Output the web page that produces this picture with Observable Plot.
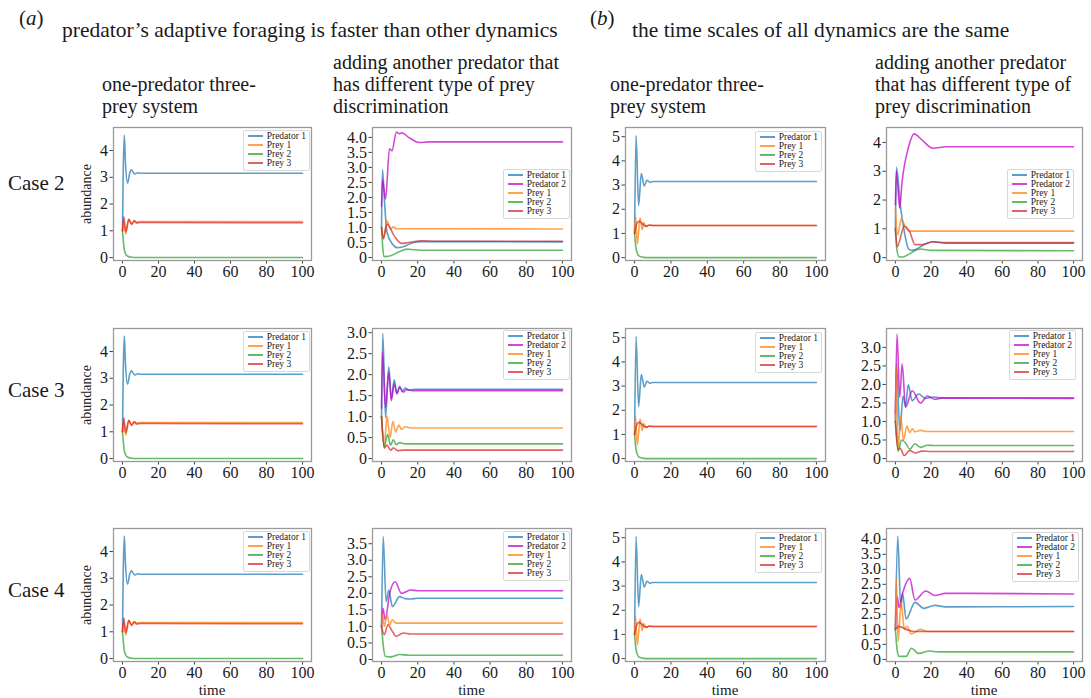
<!DOCTYPE html>
<html>
<head>
<meta charset="utf-8">
<script src="https://cdn.jsdelivr.net/npm/d3@7"></script>
<script src="https://cdn.jsdelivr.net/npm/@observablehq/plot@0.6"></script>
<style>
  html, body { margin: 0; padding: 0; background: #fff; }
  #root { position: relative; width: 1091px; height: 698px; overflow: hidden;
          font-family: "Liberation Serif", "Times New Roman", "DejaVu Serif", serif; color: #1a1a1a; }
  .t { position: absolute; white-space: nowrap; font-family: "Liberation Serif", "Times New Roman", serif; }
  .hdr { position: absolute; font-size: 20px; line-height: 22px; white-space: nowrap; font-family: "Liberation Serif", "Times New Roman", serif; }
  .panel { position: absolute; }
  .panel svg text { font-family: "Liberation Serif", "Times New Roman", serif !important; }
  .leg { position: absolute; background: rgba(255,255,255,0.85); border: 1px solid #d8d8d8;
         border-radius: 2px; padding: 1px 3px 2px 4px; font-size: 9.5px; line-height: 9px; white-space: nowrap;
         font-family: "Liberation Serif", "Times New Roman", serif; }
  .leg .sw { display: inline-block; width: 15px; height: 1.6px; vertical-align: middle; margin-right: 4px; position: relative; top: -1px; }
</style>
</head>
<body>
<div id="root"></div>
<script>
// ---------- shared tick values / labels ----------
const xTicks = [0, 20, 40, 60, 80, 100];
const ticksInt4 = [0, 1, 2, 3, 4];
const labelsInt4 = ["0", "1", "2", "3", "4"];
const ticksInt5 = [0, 1, 2, 3, 4, 5];
const labelsInt5 = ["0", "1", "2", "3", "4", "5"];
const ticksHalf40 = [0, 0.5, 1, 1.5, 2, 2.5, 3, 3.5, 4];
const labelsHalf40 = ["0", "0.5", "1.0", "1.5", "2.0", "2.5", "3.0", "3.5", "4.0"];
const ticksHalf30 = [0, 0.5, 1, 1.5, 2, 2.5, 3];
const labelsHalf30 = ["0", "0.5", "1.0", "1.5", "2.0", "2.5", "3.0"];
const labelsHalf30b = ["0", "0.5", "1.0", "2.5", "2.0", "2.5", "3.0"];
const ticksHalf35 = [0, 0.5, 1, 1.5, 2, 2.5, 3, 3.5];
const labelsHalf35 = ["0", "0.5", "1.0", "1.5", "2.0", "2.5", "3.0", "3.5"];
const labelsHalf40b = ["0", "0.5", "1.0", "2.5", "2.0", "2.5", "3.0", "3.5", "4.0"];

const seriesNames = ["Predator 1", "Predator 2", "Prey 1", "Prey 2", "Prey 3"];

// ---------- (a) one-predator three-prey (same in cases 2-4) : [time, abundance] ----------
const a1_pred1 = [[0,1],[0.4,3.2],[1,4.58],[1.6,3.6],[2.8,2.78],[4,3.15],[5,3.28],[6,3.18],[7,3.12],[8.5,3.17],[10,3.15],[100,3.15]];
const a1_prey1 = [[0,1],[0.6,1.35],[1.8,0.88],[3.5,1.42],[5,1.27],[6.5,1.38],[8,1.33],[10,1.35],[100,1.35]];
const a1_prey2 = [[0,1],[0.5,0.6],[1,0.3],[2,0.1],[3,0.05],[5,0.01],[8,0],[100,0]];
const a1_prey3 = [[0,1],[0.7,1.52],[1.8,0.98],[3.5,1.43],[5,1.24],[6.5,1.36],[8,1.29],[10,1.31],[100,1.3]];

// ---------- (b) one-predator three-prey (same in cases 2-4) ----------
const b1_pred1 = [[0,1],[0.8,5.05],[2.2,2.15],[3.7,3.48],[5.3,2.96],[6.8,3.2],[8.5,3.11],[10,3.15],[100,3.15]];
const b1_prey1 = [[0,1],[0.5,1.75],[1.5,0.55],[3,1.65],[4.2,1.15],[5,1.45],[6.5,1.28],[8,1.35],[10,1.33],[100,1.33]];
const b1_prey2 = [[0,1],[0.5,0.55],[1,0.3],[2,0.1],[3,0.05],[5,0.01],[8,0],[100,0]];
const b1_prey3 = [[0,1],[1.5,1.45],[2.5,1.5],[4,1.42],[6,1.3],[8,1.34],[10,1.33],[100,1.33]];

// ---------- (a) two predators, case 2 ----------
const a2c2_pred1 = [[0,1],[0.5,2.93],[1.5,2.0],[3,0.84],[6,0.45],[8.6,0.33],[12,0.36],[17.7,0.5],[22,0.53],[100,0.52]];
const a2c2_pred2 = [[0,1.7],[0.5,2.6],[2.2,1.95],[4.4,3.62],[5.8,3.55],[8.2,4.18],[9.8,4.12],[11.3,4.15],[15,4.0],[19.5,3.85],[21,3.83],[26,3.85],[100,3.85]];
const a2c2_prey1 = [[0,1],[1,0.63],[3,1.22],[5,0.95],[6.8,1.02],[8,0.95],[10,0.96],[100,0.95]];
const a2c2_prey2 = [[0,1],[0.7,0.3],[1.3,0.03],[5,0.06],[10,0.2],[14,0.28],[18,0.26],[25,0.24],[100,0.24]];
const a2c2_prey3 = [[0,1],[1,0.63],[3,1.11],[7,0.72],[11,0.47],[15,0.5],[22,0.56],[30,0.54],[100,0.54]];

// ---------- (b) two predators, case 2 ----------
const b2c2_pred1 = [[0,1],[0.55,3.14],[2.8,1.8],[5,0.9],[7.4,0.3],[9,0.25],[12,0.3],[16,0.45],[21,0.55],[28,0.5],[100,0.5]];
const b2c2_pred2 = [[0,1.84],[0.55,3.0],[2.4,1.72],[3.7,2.6],[7.4,3.85],[10.5,4.3],[14.7,4.1],[21,3.8],[28.5,3.85],[100,3.85]];
const b2c2_prey1 = [[0,1.72],[1.3,0.8],[3.3,1.35],[6,1.0],[8,0.92],[100,0.92]];
const b2c2_prey2 = [[0,1],[0.8,0.3],[2,0.03],[4,0.02],[7,0.1],[12,0.27],[14,0.3],[20,0.25],[100,0.24]];
const b2c2_prey3 = [[0,1],[1,0.38],[5,1.1],[8,0.9],[11,0.45],[15,0.45],[21,0.55],[28,0.52],[100,0.52]];

// ---------- (a) two predators, case 3 ----------
const a2c3_pred1 = [[0,1],[0.7,2.98],[2.2,0.98],[4,2.19],[5.4,1.42],[7,1.88],[8.5,1.54],[10,1.72],[11.5,1.6],[13,1.68],[15,1.63],[18,1.65],[100,1.65]];
const a2c3_pred2 = [[0,1.2],[0.5,2.54],[2.2,1.22],[4,2.06],[5.4,1.38],[7,1.78],[8.5,1.55],[10,1.7],[12,1.58],[14,1.65],[17,1.62],[100,1.62]];
const a2c3_prey1 = [[0,1],[1.5,0.28],[3,1.02],[4.7,0.5],[6.3,0.89],[7.8,0.63],[9.5,0.8],[11,0.7],[13,0.76],[16,0.73],[100,0.73]];
const a2c3_prey2 = [[0,1],[1.5,0.28],[3.3,0.57],[5,0.32],[6.5,0.45],[8,0.33],[10,0.38],[13,0.35],[100,0.35]];
const a2c3_prey3 = [[0,1],[1.5,0.25],[3,0.32],[5,0.2],[6.5,0.25],[9,0.19],[12,0.2],[100,0.2]];

// ---------- (b) two predators, case 3 ----------
const b2c3_pred1 = [[0,1],[0.6,2.55],[2.5,0.75],[4.3,1.69],[5.7,1.4],[7.2,2.0],[9.4,1.56],[13,1.74],[17,1.62],[21,1.66],[25,1.64],[100,1.64]];
const b2c3_pred2 = [[0,1.2],[0.9,3.36],[2.4,1.65],[3.8,2.55],[5.7,1.38],[9.5,1.83],[14,1.5],[18,1.69],[22,1.6],[26,1.63],[100,1.62]];
const b2c3_prey1 = [[0,1],[0.4,2.5],[1.5,0.2],[3,1.15],[4.5,0.5],[6.5,0.88],[8,0.7],[9.5,0.8],[11,0.72],[14,0.76],[18,0.73],[100,0.73]];
const b2c3_prey2 = [[0,1],[1.5,0.2],[3.5,0.5],[6,0.4],[8,0.25],[11,0.4],[14,0.3],[18,0.36],[22,0.35],[100,0.35]];
const b2c3_prey3 = [[0,1],[1.5,0.25],[2.5,0.28],[5,0.08],[8,0.22],[11,0.15],[15,0.2],[20,0.19],[100,0.19]];

// ---------- (a) two predators, case 4 ----------
const a2c4_pred1 = [[0,1],[0.9,3.72],[2.5,1.75],[4,2.1],[6,1.6],[10,1.9],[13,1.84],[16,1.83],[20,1.85],[100,1.85]];
const a2c4_pred2 = [[0,1],[0.8,1.55],[2,1.2],[4.5,2.0],[7.5,2.35],[11,2.0],[16,2.1],[20,2.08],[100,2.08]];
const a2c4_prey1 = [[0,1],[0.5,1.38],[1.5,1.0],[3,1.35],[4.5,1.05],[6,1.2],[8,1.1],[10,1.1],[100,1.1]];
const a2c4_prey2 = [[0,1],[1,0.4],[2,0.1],[5,0.08],[10,0.15],[15,0.13],[100,0.13]];
const a2c4_prey3 = [[0,1],[1.5,0.75],[3.5,1.05],[6,0.85],[8,0.7],[12,0.8],[16,0.77],[100,0.77]];

// ---------- (b) two predators, case 4 ----------
const b2c4_pred1 = [[0,1],[1.3,4.1],[3,1.71],[4,2.2],[6,1.35],[11,1.9],[16,1.7],[22,1.8],[28,1.75],[100,1.76]];
const b2c4_pred2 = [[0,1],[1,2.1],[2,1.73],[4,2.2],[8,2.7],[11,1.98],[17,2.28],[22,2.13],[28,2.2],[100,2.18]];
const b2c4_prey1 = [[0,1],[0.5,2.7],[1.5,0.6],[3.2,1.9],[5,1.0],[6.5,1.1],[9,0.85],[14,1.0],[18,0.93],[100,0.93]];
const b2c4_prey2 = [[0,1],[1,0.3],[2,0.1],[6,0.1],[9,0.37],[13,0.2],[19,0.28],[24,0.25],[100,0.25]];
const b2c4_prey3 = [[0,1],[2,1.1],[6,1.0],[10,0.93],[100,0.93]];

// ---------- text ----------
const titleA = "predator’s adaptive foraging is faster than other dynamics";
const titleB = "the time scales of all dynamics are the same";
const headerOne = ["one-predator three-", "prey system"];
const headerTwoA = ["adding another predator that", "has different type of prey", "discrimination"];
const headerTwoB = ["adding another predator", "that has different type of", "prey discrimination"];
const caseLabels = ["Case 2", "Case 3", "Case 4"];

// ---------- styling / layout (not data) ----------
const seriesColors = { "Predator 1": "#1f77b4", "Predator 2": "#c000c8", "Prey 1": "#ff7f0e", "Prey 2": "#2ca02c", "Prey 3": "#d62728" };
const colLeft = { a1: 113, a2: 372, b1: 625, b2: 886 };
const colWidth = { a1: 198, a2: 199, b1: 200, b2: 196 };
const rowTop = [127, 328, 528];
const frameH = 133;
const mL = 44, mR = 4, mT = 4, mB = 34;
const serif = '"Liberation Serif", "Times New Roman", serif';

const panels = [
  { col: "a1", row: 0, s: [a1_pred1, null, a1_prey1, a1_prey2, a1_prey3], yDomain: [-0.11, 4.86], yt: ticksInt4, yl: labelsInt4, leg: { right: 1, top: 3 } },
  { col: "a2", row: 0, s: [a2c2_pred1, a2c2_pred2, a2c2_prey1, a2c2_prey2, a2c2_prey3], yDomain: [-0.1, 4.33], yt: ticksHalf40, yl: labelsHalf40, leg: { right: 1, top: 42 } },
  { col: "b1", row: 0, s: [b1_pred1, null, b1_prey1, b1_prey2, b1_prey3], yDomain: [-0.12, 5.38], yt: ticksInt5, yl: labelsInt5, leg: { right: 3, top: 4 } },
  { col: "b2", row: 0, s: [b2c2_pred1, b2c2_pred2, b2c2_prey1, b2c2_prey2, b2c2_prey3], yDomain: [-0.1, 4.52], yt: ticksInt4, yl: labelsInt4, leg: { right: 8, top: 42 } },

  { col: "a1", row: 1, s: [a1_pred1, null, a1_prey1, a1_prey2, a1_prey3], yDomain: [-0.11, 4.86], yt: ticksInt4, yl: labelsInt4, leg: { right: 1, top: 3 } },
  { col: "a2", row: 1, s: [a2c3_pred1, a2c3_pred2, a2c3_prey1, a2c3_prey2, a2c3_prey3], yDomain: [-0.07, 3.1], yt: ticksHalf30, yl: labelsHalf30, leg: { right: 1, top: 2 } },
  { col: "b1", row: 1, s: [b1_pred1, null, b1_prey1, b1_prey2, b1_prey3], yDomain: [-0.12, 5.38], yt: ticksInt5, yl: labelsInt5, leg: { right: 3, top: 4 } },
  { col: "b2", row: 1, s: [b2c3_pred1, b2c3_pred2, b2c3_prey1, b2c3_prey2, b2c3_prey3], yDomain: [-0.08, 3.51], yt: ticksHalf30, yl: labelsHalf30b, leg: { right: 6, top: 2 } },

  { col: "a1", row: 2, s: [a1_pred1, null, a1_prey1, a1_prey2, a1_prey3], yDomain: [-0.11, 4.86], yt: ticksInt4, yl: labelsInt4, leg: { right: 1, top: 3 } },
  { col: "a2", row: 2, s: [a2c4_pred1, a2c4_pred2, a2c4_prey1, a2c4_prey2, a2c4_prey3], yDomain: [-0.06, 3.96], yt: ticksHalf35, yl: labelsHalf35, leg: { right: 1, top: 3 } },
  { col: "b1", row: 2, s: [b1_pred1, null, b1_prey1, b1_prey2, b1_prey3], yDomain: [-0.12, 5.38], yt: ticksInt5, yl: labelsInt5, leg: { right: 3, top: 4 } },
  { col: "b2", row: 2, s: [b2c4_pred1, b2c4_pred2, b2c4_prey1, b2c4_prey2, b2c4_prey3], yDomain: [-0.07, 4.36], yt: ticksHalf40, yl: labelsHalf40b, leg: { right: 3, top: 4 } }
];

const root = document.getElementById("root");

function addText(html, left, top, css) {
  const d = document.createElement("div");
  d.className = "t";
  d.innerHTML = html;
  d.style.left = left + "px";
  d.style.top = top + "px";
  Object.assign(d.style, css || {});
  root.appendChild(d);
  return d;
}
function addHeader(lines, left, top) {
  const d = document.createElement("div");
  d.className = "hdr";
  d.style.left = left + "px";
  d.style.top = top + "px";
  d.innerHTML = lines.join("<br>");
  root.appendChild(d);
}

// titles
addText("(<i>a</i>)", 19, 6, { fontSize: "21px", lineHeight: "24px" });
addText(titleA, 62, 18, { fontSize: "21.5px", lineHeight: "24px" });
addText("(<i>b</i>)", 590, 6, { fontSize: "21px", lineHeight: "24px" });
addText(titleB, 632, 18, { fontSize: "21.5px", lineHeight: "24px" });

// column headers
addHeader(headerOne, 102, 73);
addHeader(headerTwoA, 333, 51);
addHeader(headerOne, 610, 73);
addHeader(headerTwoB, 875, 51);

// row labels + y-axis titles
const rowCenters = [183, 390, 590];
caseLabels.forEach((c, i) => {
  addText(c, 8, rowCenters[i] - 13, { fontSize: "21px", lineHeight: "26px" });
  const yc = rowTop[i] + frameH / 2;
  const ab = addText("abundance", 87, yc, { fontSize: "14px", lineHeight: "16px" });
  ab.style.transform = "translate(-50%, -50%) rotate(-90deg)";
});

// x-axis titles under bottom row
Object.keys(colLeft).forEach(k => {
  const cx = colLeft[k] + colWidth[k] / 2;
  const tt = addText("time", cx, 681, { fontSize: "15px", lineHeight: "18px" });
  tt.style.transform = "translateX(-50%)";
});

// panels
panels.forEach(p => {
  const W = colWidth[p.col];
  const lineMarks = [];
  p.s.forEach((pts, i) => {
    if (!pts) return;
    lineMarks.push(Plot.line(pts, {
      x: d => d[0], y: d => d[1],
      stroke: seriesColors[seriesNames[i]], strokeWidth: 1.6, strokeOpacity: 0.72,
      curve: "monotone-x"
    }));
  });
  const svg = Plot.plot({
    width: mL + W + mR, height: mT + frameH + mB,
    marginLeft: mL, marginRight: mR, marginTop: mT, marginBottom: mB,
    x: { domain: [-5, 105] },
    y: { domain: p.yDomain },
    style: `font-family: ${serif}; font-size: 16px; color: #1a1a1a; background: transparent; overflow: visible;`,
    marks: [
      Plot.axisX({ ticks: xTicks, tickSize: 3.5, tickPadding: 2, fontSize: 16, label: null, stroke: "#444" }),
      Plot.axisY({ ticks: p.yt, tickFormat: d => p.yl[p.yt.indexOf(d)], tickSize: 3.5, tickPadding: 2, fontSize: 16, label: null, stroke: "#444" }),
      ...lineMarks,
      Plot.frame({ stroke: "#9a9a9a", strokeWidth: 1.3 })
    ]
  });
  svg.querySelectorAll("text").forEach(t => t.setAttribute("font-family", serif));
  const wrap = document.createElement("div");
  wrap.className = "panel";
  wrap.style.left = (colLeft[p.col] - mL) + "px";
  wrap.style.top = (rowTop[p.row] - mT) + "px";
  wrap.appendChild(svg);

  // legend
  const leg = document.createElement("div");
  leg.className = "leg";
  p.s.forEach((pts, i) => {
    if (!pts) return;
    const row = document.createElement("div");
    row.innerHTML = `<span class="sw" style="background:${seriesColors[seriesNames[i]]};opacity:0.72"></span>${seriesNames[i]}`;
    leg.appendChild(row);
  });
  leg.style.right = (mR + p.leg.right) + "px";
  leg.style.top = (mT + p.leg.top) + "px";
  wrap.appendChild(leg);
  root.appendChild(wrap);
});
</script>
</body>
</html>
